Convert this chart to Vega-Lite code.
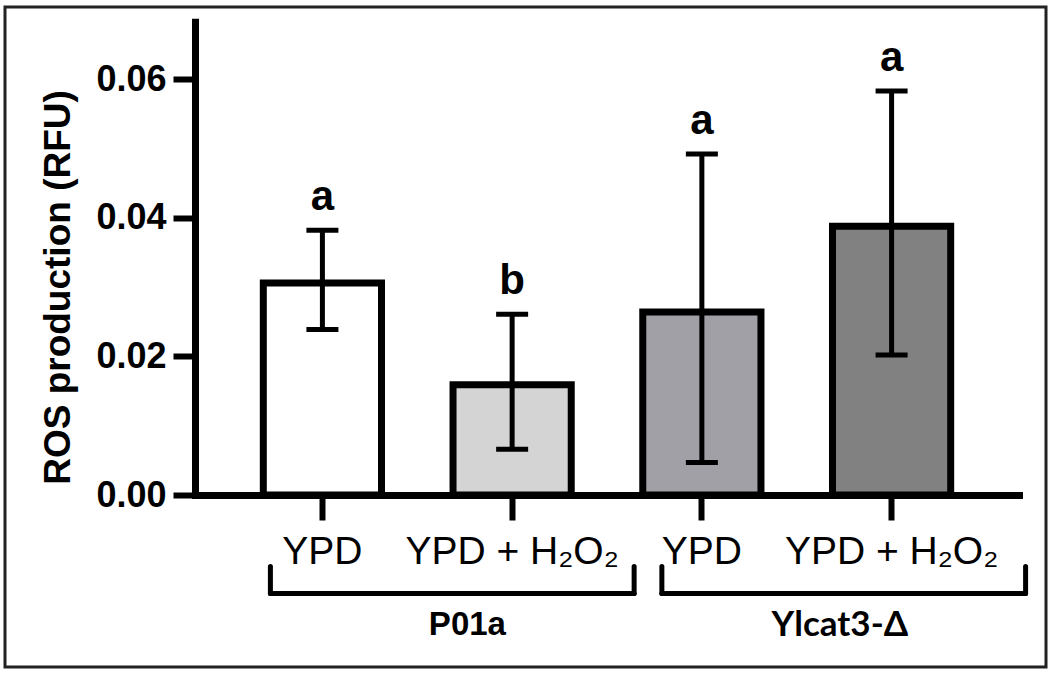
{
  "$schema": "https://vega.github.io/schema/vega-lite/v6.json",
  "autosize": {"type": "none"},
  "padding": {"left": 5, "top": 7, "right": 8, "bottom": 9},
  "width": 1041,
  "height": 660,
  "background": "white",
  "config": {
    "view": {"stroke": "#222222", "strokeWidth": 3},
    "font": "Liberation Sans"
  },
  "datasets": {
    "bars": [
      {"id": "P01a|YPD", "group": "P01a", "mean": 0.0306, "lo": 0.0239, "hi": 0.0382, "letter": "a"},
      {"id": "P01a|YPD + H₂O₂", "group": "P01a", "mean": 0.0159, "lo": 0.0066, "hi": 0.0261, "letter": "b"},
      {"id": "Ylcat3-Δ|YPD", "group": "Ylcat3-Δ", "mean": 0.0264, "lo": 0.0047, "hi": 0.0492, "letter": "a"},
      {"id": "Ylcat3-Δ|YPD + H₂O₂", "group": "Ylcat3-Δ", "mean": 0.0388, "lo": 0.0202, "hi": 0.0583, "letter": "a"}
    ],
    "groups": [
      {"group": "P01a", "from": "P01a|YPD", "to": "P01a|YPD + H₂O₂"},
      {"group": "Ylcat3-Δ", "from": "Ylcat3-Δ|YPD", "to": "Ylcat3-Δ|YPD + H₂O₂"}
    ]
  },
  "layer": [
    {
      "data": {"name": "bars"},
      "mark": {"type": "bar", "stroke": "black", "strokeWidth": 7},
      "encoding": {
        "x": {
          "field": "id", "type": "nominal",
          "scale": {
            "domain": ["P01a|YPD", "P01a|YPD + H₂O₂", "Ylcat3-Δ|YPD", "Ylcat3-Δ|YPD + H₂O₂"],
            "range": [190, 1014],
            "paddingInner": 0.377,
            "paddingOuter": 0.36
          },
          "axis": {
            "title": null,
            "offset": -172,
            "labelAngle": 0,
            "labelExpr": "split(datum.value, '|')[1]",
            "labelFont": "Liberation Sans",
            "labelFontSize": 39,
            "labelFontWeight": "normal",
            "labelColor": "black",
            "labelPadding": 12,
            "labelLimit": 0,
            "labelOverlap": false,
            "tickSize": 25,
            "tickWidth": 6,
            "tickColor": "black",
            "domainWidth": 7,
            "domainColor": "black",
            "domainCap": "square",
            "grid": false
          }
        },
        "y": {
          "field": "mean", "type": "quantitative",
          "scale": {"domain": [0, 0.0683], "range": [488, 14.7], "nice": false, "zero": true},
          "axis": {
            "title": "ROS production (RFU)",
            "offset": -190,
            "values": [0, 0.02, 0.04, 0.06],
            "format": ".2f",
            "labelFont": "Liberation Sans",
            "labelFontSize": 36,
            "labelFontWeight": "bold",
            "labelColor": "black",
            "labelPadding": 7,
            "tickSize": 22,
            "tickWidth": 6,
            "tickColor": "black",
            "domainWidth": 7,
            "domainColor": "black",
            "domainCap": "square",
            "grid": false,
            "titleFont": "Liberation Sans",
            "titleFontSize": 37,
            "titleFontWeight": "bold",
            "titleColor": "black",
            "titleAngle": -90,
            "titleAlign": "center",
            "titleBaseline": "middle",
            "titleLimit": 0,
            "titleX": -137,
            "titleY": 280
          }
        },
        "fill": {
          "field": "id", "type": "nominal",
          "scale": {
            "domain": ["P01a|YPD", "P01a|YPD + H₂O₂", "Ylcat3-Δ|YPD", "Ylcat3-Δ|YPD + H₂O₂"],
            "range": ["#ffffff", "#d4d4d4", "#a1a0a6", "#818181"]
          },
          "legend": null
        }
      }
    },
    {
      "data": {"name": "bars"},
      "mark": {"type": "rule", "color": "black", "strokeWidth": 5, "opacity": 1},
      "encoding": {
        "x": {"field": "id", "type": "nominal"},
        "y": {"field": "lo", "type": "quantitative"},
        "y2": {"field": "hi"}
      }
    },
    {
      "data": {"name": "bars"},
      "mark": {"type": "tick", "color": "black", "opacity": 1, "size": 32, "thickness": 5, "orient": "horizontal"},
      "encoding": {
        "x": {"field": "id", "type": "nominal"},
        "y": {"field": "hi", "type": "quantitative"}
      }
    },
    {
      "data": {"name": "bars"},
      "mark": {"type": "tick", "color": "black", "opacity": 1, "size": 32, "thickness": 5, "orient": "horizontal"},
      "encoding": {
        "x": {"field": "id", "type": "nominal"},
        "y": {"field": "lo", "type": "quantitative"}
      }
    },
    {
      "data": {"name": "bars"},
      "mark": {"type": "text", "font": "Liberation Sans", "fontSize": 42, "fontWeight": "bold", "color": "black", "baseline": "alphabetic", "align": "center", "dy": -20},
      "encoding": {
        "x": {"field": "id", "type": "nominal"},
        "y": {"field": "hi", "type": "quantitative"},
        "text": {"field": "letter"}
      }
    },
    {
      "data": {"name": "groups"},
      "mark": {
        "type": "rule", "color": "black", "strokeWidth": 5, "strokeCap": "round",
        "xOffset": {"expr": "datum.group == 'P01a' ? -52 : -40"},
        "x2Offset": {"expr": "datum.group == 'P01a' ? 122 : 134"}
      },
      "encoding": {
        "x": {"field": "from", "type": "nominal"},
        "x2": {"field": "to"},
        "y": {"datum": -0.0142}
      }
    },
    {
      "data": {"name": "groups"},
      "mark": {
        "type": "rule", "color": "black", "strokeWidth": 5, "strokeCap": "round",
        "xOffset": {"expr": "datum.group == 'P01a' ? -52 : -40"}
      },
      "encoding": {
        "x": {"field": "from", "type": "nominal"},
        "y": {"datum": -0.0142},
        "y2": {"datum": -0.0103}
      }
    },
    {
      "data": {"name": "groups"},
      "mark": {
        "type": "rule", "color": "black", "strokeWidth": 5, "strokeCap": "round",
        "xOffset": {"expr": "datum.group == 'P01a' ? 122 : 134"}
      },
      "encoding": {
        "x": {"field": "to", "type": "nominal"},
        "y": {"datum": -0.0142},
        "y2": {"datum": -0.0103}
      }
    },
    {
      "data": {"name": "groups"},
      "mark": {
        "type": "text", "color": "black", "baseline": "middle", "align": "center",
        "font": {"expr": "datum.group == 'P01a' ? 'Liberation Sans' : 'Lato'"},
        "fontSize": {"expr": "datum.group == 'P01a' ? 33 : 35"},
        "fontWeight": "bold",
        "xOffset": {"expr": "datum.group == 'P01a' ? 145 : 138"}
      },
      "encoding": {
        "x": {"field": "from", "type": "nominal"},
        "y": {"datum": -0.0188},
        "text": {"field": "group"}
      }
    }
  ]
}
